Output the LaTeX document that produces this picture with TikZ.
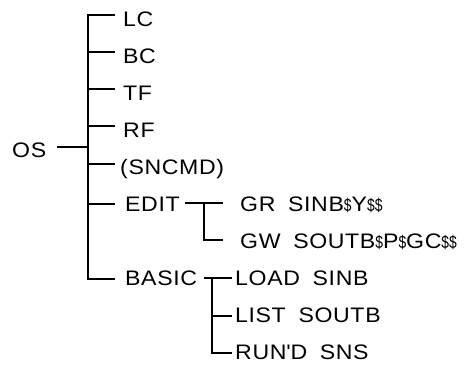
\documentclass[tikz,border=0pt]{standalone}
\usepackage{fontspec}
\setmainfont{Liberation Sans}[FakeStretch=1.1,LetterSpace=3,WordSpace=1.8]
\newcommand{\dol}{\scalebox{0.6}[0.85]{\$}}
\begin{document}
\begin{tikzpicture}[x=1pt,y=-1pt,
  lbl/.style={anchor=base west,inner sep=0pt,font=\fontsize{21}{22}\selectfont},
  conn/.style={line width=1.3pt}]
\useasboundingbox (0,0) rectangle (469,367);
% labels
\node[lbl] (os) at (12,157) {OS};
\node[lbl] (lc) at (123,26) {LC};
\node[lbl] (bc) at (123,63) {BC};
\node[lbl] (tf) at (123,100) {TF};
\node[lbl] (rf) at (123,137) {RF};
\node[lbl] (sncmd) at (120,174) {(SNCMD)};
\node[lbl] (edit) at (125,211) {EDIT};
\node[lbl] (basic) at (125,285) {BASIC};
\node[lbl] (gr) at (240,211) {GR SINB\dol Y\dol\dol};
\node[lbl] (gw) at (240,248) {GW SOUTB\dol P\dol GC\dol\dol};
\node[lbl] (load) at (235,285) {LOAD SINB};
\node[lbl] (list) at (235,322) {LIST SOUTB};
\node[lbl] (rund) at (235,359) {RUN\textquotesingle D SNS};
% junctions
\coordinate (osend) at (57,147);
\coordinate (osj) at (88,147);
\coordinate (lcj) at (88,15);
\coordinate (bcj) at (88,52);
\coordinate (tfj) at (88,89);
\coordinate (rfj) at (88,126);
\coordinate (snj) at (88,164);
\coordinate (edj) at (88,204);
\coordinate (baj) at (88,279);
\coordinate (lce) at (115,15);
\coordinate (bce) at (115,52);
\coordinate (tfe) at (115,89);
\coordinate (rfe) at (115,126);
\coordinate (sne) at (115,164);
\coordinate (ede) at (115,204);
\coordinate (bae) at (115,279);
% main tree
\draw[conn] (osend) -- (osj);
\draw[conn] (lce) -- (lcj) -- (baj) -- (bae);
\draw[conn] (bcj) -- (bce);
\draw[conn] (tfj) -- (tfe);
\draw[conn] (rfj) -- (rfe);
\draw[conn] (snj) -- (sne);
\draw[conn] (edj) -- (ede);
% EDIT subtree
\coordinate (es) at (185,203);
\coordinate (ej) at (204,203);
\coordinate (ee) at (223,203);
\coordinate (ec) at (204,240);
\coordinate (ece) at (223,240);
\draw[conn] (es) -- (ee);
\draw[conn] (ej) -- (ec) -- (ece);
% BASIC subtree
\coordinate (bs) at (204,278);
\coordinate (bj) at (212,278);
\coordinate (be) at (232,278);
\coordinate (blj) at (212,316);
\coordinate (ble) at (232,316);
\coordinate (bc2) at (212,353);
\coordinate (bce2) at (232,353);
\draw[conn] (bs) -- (be);
\draw[conn] (bj) -- (bc2) -- (bce2);
\draw[conn] (blj) -- (ble);
\end{tikzpicture}
\end{document}
